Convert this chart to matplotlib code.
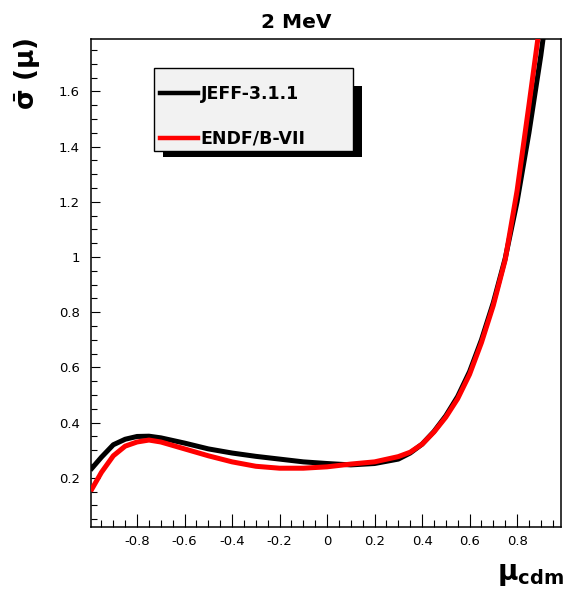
import matplotlib
matplotlib.use("Agg")
import matplotlib.pyplot as plt
from matplotlib.patches import Rectangle
from matplotlib.ticker import MultipleLocator, FixedLocator

plt.rcParams['font.family'] = ['DejaVu Sans']
plt.rcParams['mathtext.fontset'] = 'dejavusans'

# ---- data ----
mu_jeff = [-0.99, -0.95, -0.9, -0.85, -0.8, -0.75, -0.7, -0.6, -0.5, -0.4, -0.3, -0.2,
           -0.1, 0.0, 0.1, 0.2, 0.3, 0.35, 0.4, 0.45, 0.5, 0.55, 0.6, 0.65, 0.7, 0.75,
           0.8, 0.85, 0.9, 0.95]
sig_jeff = [0.235, 0.275, 0.32, 0.34, 0.35, 0.351, 0.345, 0.326, 0.305, 0.29, 0.278, 0.268,
            0.258, 0.252, 0.247, 0.252, 0.268, 0.29, 0.322, 0.368, 0.425, 0.495, 0.585, 0.70, 0.835, 0.995,
            1.2, 1.45, 1.73, 2.05]

mu_endf = [-0.99, -0.95, -0.9, -0.85, -0.8, -0.75, -0.7, -0.6, -0.5, -0.4, -0.3, -0.2,
           -0.1, 0.0, 0.1, 0.2, 0.3, 0.35, 0.4, 0.45, 0.5, 0.55, 0.6, 0.65, 0.7, 0.75,
           0.8, 0.85, 0.9, 0.95]
sig_endf = [0.16, 0.22, 0.28, 0.315, 0.33, 0.337, 0.33, 0.305, 0.28, 0.258, 0.242, 0.235,
            0.235, 0.24, 0.25, 0.258, 0.277, 0.293, 0.322, 0.366, 0.42, 0.487, 0.575, 0.69, 0.825, 0.99,
            1.24, 1.55, 1.87, 2.2]

labels = ["JEFF-3.1.1", "ENDF/B-VII"]
colors = ["black", "#ff0000"]
xticks = [-0.8, -0.6, -0.4, -0.2, 0, 0.2, 0.4, 0.6, 0.8]
yticks = [0.2, 0.4, 0.6, 0.8, 1.0, 1.2, 1.4, 1.6]
xtick_labels = ["-0.8", "-0.6", "-0.4", "-0.2", "0", "0.2", "0.4", "0.6", "0.8"]
ytick_labels = ["0.2", "0.4", "0.6", "0.8", "1", "1.2", "1.4", "1.6"]
title = "2 MeV"

W, H = 566, 591
AX_L, AX_T, AX_W, AX_H = 91, 39, 470, 488
fig = plt.figure(figsize=(W / 100, H / 100), dpi=100)
ax = fig.add_axes([AX_L / W, 1 - (AX_T + AX_H) / H, AX_W / W, AX_H / H])


def ax_box(x0, y0, x1, y1):
    """pixel box (top-left origin) -> axes fraction (x, y, w, h)"""
    return ((x0 - AX_L) / AX_W, (AX_T + AX_H - y1) / AX_H,
            (x1 - x0) / AX_W, (y1 - y0) / AX_H)


ax.plot(mu_jeff, sig_jeff, color=colors[0], lw=3.6, label=labels[0], zorder=3)
ax.plot(mu_endf, sig_endf, color=colors[1], lw=3.6, label=labels[1], zorder=4)

ax.set_xlim(-0.994, 0.985)
ax.set_ylim(0.022, 1.79)

ax.xaxis.set_major_locator(FixedLocator(xticks))
ax.set_xticklabels(xtick_labels)
ax.yaxis.set_major_locator(FixedLocator(yticks))
ax.set_yticklabels(ytick_labels)
ax.xaxis.set_minor_locator(MultipleLocator(0.05))
ax.yaxis.set_minor_locator(MultipleLocator(0.05))

ax.tick_params(axis='x', which='major', direction='in', length=9.5, width=0.8,
               labelsize=9.5, pad=6, top=False)
ax.tick_params(axis='x', which='minor', direction='in', length=5, width=0.8, top=False)
ax.tick_params(axis='y', which='major', direction='in', length=6.7, width=0.8,
               labelsize=9.5, pad=8, right=False)
ax.tick_params(axis='y', which='minor', direction='in', length=4.2, width=0.8, right=False)
for s in ax.spines.values():
    s.set_linewidth(1.1)

fig.text(296.5 / W, 1 - 22 / H, title, ha='center', va='center',
         fontsize=14.5, fontweight='bold')
fig.text(28 / W, 1 - 38 / H, r'$\bar{\mathbf{\sigma}}\ \mathbf{(\mu)}$',
         rotation=90, ha='center', va='top', fontsize=19)
fig.text(564 / W, 1 - 588 / H, r'$\mathbf{\mu_{cdm}}$', ha='right', va='bottom',
         fontsize=20)

# legend box (ROOT style pave with shadow)
for (x0, y0, x1, y1) in [(353, 86, 362, 157), (163, 151, 362, 157)]:
    bx, by, bw, bh = ax_box(x0, y0, x1, y1)
    ax.add_patch(Rectangle((bx, by), bw, bh, transform=ax.transAxes,
                           facecolor='black', edgecolor='none', zorder=5.8, clip_on=False))
bx, by, bw, bh = ax_box(154, 68, 353, 151)
ax.add_patch(Rectangle((bx, by), bw, bh, transform=ax.transAxes,
                       facecolor='#f2f2f2', edgecolor='black', linewidth=1.0,
                       zorder=5.9, clip_on=False))

lx, ly, _, _ = ax_box(160, 0, 160, 85)
leg = ax.legend(loc='upper left', bbox_to_anchor=(lx, ly), borderaxespad=0,
                frameon=False, handlelength=2.2, handletextpad=0.15,
                labelspacing=1.55, borderpad=0,
                prop={'weight': 'bold', 'size': 12.5})
leg.set_zorder(6)
for h in leg.get_lines():
    h.set_linewidth(3.2)

fig.savefig("out.png", dpi=100)
